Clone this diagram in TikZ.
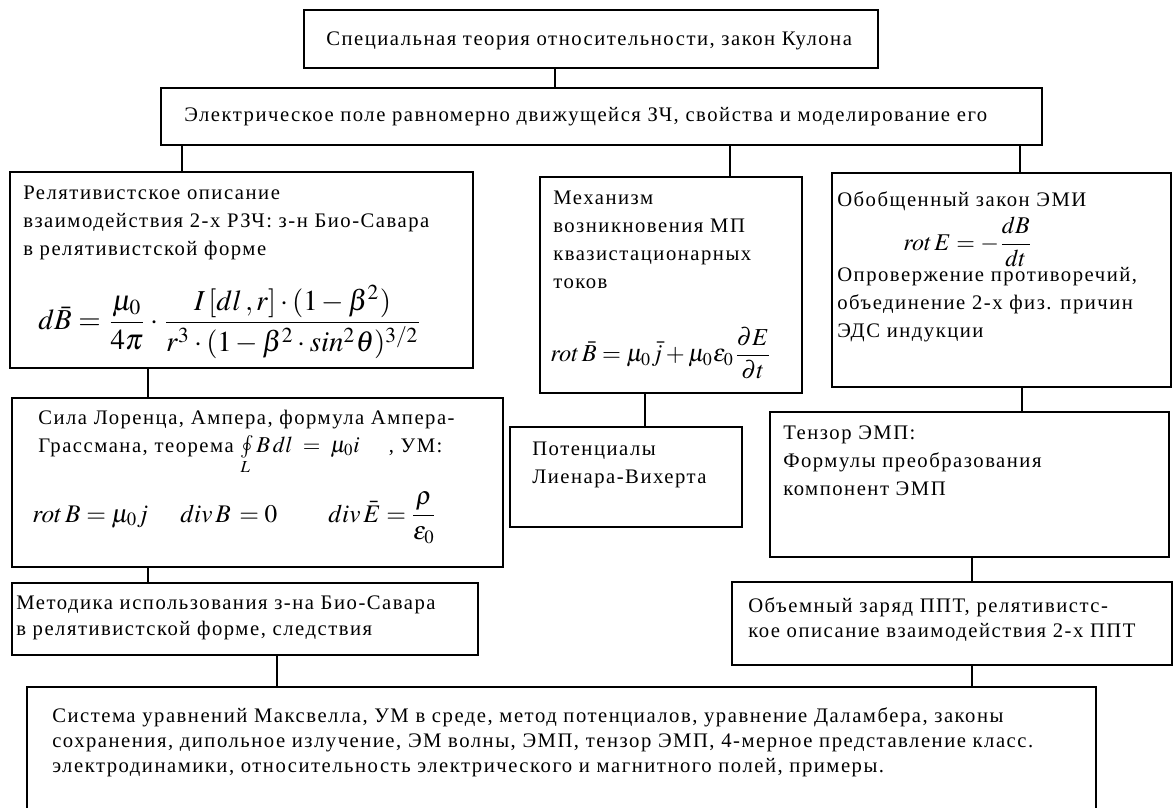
\documentclass[tikz,border=0pt]{standalone}
\usepackage{mathptmx}
\usepackage{fontspec}
\setmainfont{Liberation Serif}[LetterSpace=7.3]
\usepackage{graphicx}
\usetikzlibrary{fit}
\newcommand\bodyfont{\fontsize{15.5pt}{21pt}\selectfont}
\newcommand\mylines[2][1]{{\renewcommand\arraystretch{#1}\begin{tabular}[t]{@{}l@{}}#2\end{tabular}}}
\begin{document}
\begin{tikzpicture}[x=0.75pt,y=-0.75pt,
  box/.style={draw, line width=1.5pt, inner sep=0pt},
  txt/.style={anchor=base west, inner sep=0pt, font=\bodyfont},
  frm/.style={anchor=west, inner sep=0pt},
  eq/.style={anchor=base west, inner sep=0pt, font=\fontsize{19pt}{21pt}\selectfont},
  link/.style={line width=0.9pt}]
\clip (0,0) rectangle (1174,807);
\fill[white] (0,0) rectangle (1174,807);
% boxes
\node[box, fit={(304,10) (878,68)}] (b1) {};
\node[box, fit={(161,88) (1042,145)}] (b2) {};
\node[box, fit={(10,172) (473,368)}] (l1) {};
\node[box, fit={(540,177) (802,393)}] (m1) {};
\node[box, fit={(832,173) (1171,387)}] (r1) {};
\node[box, fit={(12,398) (503,567)}] (l2) {};
\node[box, fit={(510,427) (742,527)}] (p1) {};
\node[box, fit={(770,412) (1169,557)}] (t1) {};
\node[box, fit={(12,583) (478,655)}] (l3) {};
\node[box, fit={(732,582) (1172,665)}] (r3) {};
\node[box, fit={(27,687) (1096,840)}] (bt) {};
% texts
\node[txt] (tb1) at (326,45) {Специальная теория относительности, закон Кулона};
\node[txt] (tb2) at (184,121) {Электрическое поле равномерно движущейся ЗЧ, свойства и моделирование его};
\node[txt] (tl1) at (23,199) {\mylines{Релятивистское описание\\взаимодействия 2-х РЗЧ: з-н Био-Савара\\в релятивистской форме}};
\node[frm] (fl1) at (38,322) {\resizebox{288pt}{!}{$\displaystyle d\bar B=\frac{\mu_0}{4\pi}\cdot\frac{I\left[dl\,,r\right]\cdot(1-\beta^2)}{r^3\cdot(1-\beta^2\cdot sin^2\theta)^{3/2}}$}};
\node[txt] (tm1) at (553,204) {\mylines{Механизм\\возникновения МП\\квазистационарных\\токов}};
\node[frm] (fm1) at (550,353) {\resizebox{166pt}{!}{$\displaystyle rot\,\bar B=\mu_0\bar j+\mu_0\varepsilon_0\frac{\partial E}{\partial t}$}};
\node[txt] (tr1) at (837,206) {Обобщенный закон ЭМИ};
\node[frm] (fr1) at (903,242) {\resizebox{97pt}{!}{$\displaystyle rot\,E=-\frac{dB}{dt}$}};
\node[txt] (tr1b) at (837,281) {\mylines{Опровержение противоречий,\\объединение 2-х физ. причин\\ЭДС индукции}};
\node[txt] (tl2) at (38,424) {\mylines{Сила Лоренца, Ампера, формула Ампера-\\Грассмана, теорема {\fontsize{17pt}{20pt}\selectfont$\oint\limits_L B\,dl\;=\;\mu_0 i$}\hspace{22pt}, УМ:}};
\node[eq] (el2a) at (32,522) {$rot\,B=\mu_0 j$};
\node[eq] (el2b) at (180,522) {$div\,B\,=0$};
\node[eq] (el2c) at (328,522) {$div\,\bar E=\displaystyle\frac{\rho}{\varepsilon_0}$};
\node[txt] (tp1) at (532,455) {\mylines{Потенциалы\\Лиенара-Вихерта}};
\node[txt] (tt1) at (783,439) {\mylines{Тензор ЭМП:\\Формулы преобразования\\компонент ЭМП}};
\node[txt] (tl3) at (16,609) {\mylines[0.96]{Методика использования з-на Био-Савара\\в релятивистской форме, следствия}};
\node[txt] (tr3) at (748,612) {\mylines[0.9]{Объемный заряд ППТ, релятивистс-\\кое описание взаимодействия 2-х ППТ}};
\node[txt] (tbt) at (52,722) {\mylines[0.91]{Система уравнений Максвелла, УМ в среде, метод потенциалов, уравнение Даламбера, законы\\сохранения, дипольное излучение, ЭМ волны, ЭМП, тензор ЭМП, 4-мерное представление класс.\\электродинамики, относительность электрического и магнитного полей, примеры.}};
% connector x positions
\coordinate (k1) at (555,0);
\coordinate (k2) at (182,0);
\coordinate (k3) at (730,0);
\coordinate (k4) at (1020,0);
\coordinate (k5) at (148,0);
\coordinate (k6) at (645,0);
\coordinate (k7) at (1022,0);
\coordinate (k8) at (972,0);
\coordinate (k9) at (277,0);
% connectors
\draw[link] (b1.south -| k1) -- (b2.north -| k1);
\draw[link] (b2.south -| k2) -- (l1.north -| k2);
\draw[link] (b2.south -| k3) -- (m1.north -| k3);
\draw[link] (b2.south -| k4) -- (r1.north -| k4);
\draw[link] (l1.south -| k5) -- (l2.north -| k5);
\draw[link] (m1.south -| k6) -- (p1.north -| k6);
\draw[link] (r1.south -| k7) -- (t1.north -| k7);
\draw[link] (l2.south -| k5) -- (l3.north -| k5);
\draw[link] (t1.south -| k8) -- (r3.north -| k8);
\draw[link] (l3.south -| k9) -- (bt.north -| k9);
\draw[link] (r3.south -| k8) -- (bt.north -| k8);
\end{tikzpicture}
\end{document}
